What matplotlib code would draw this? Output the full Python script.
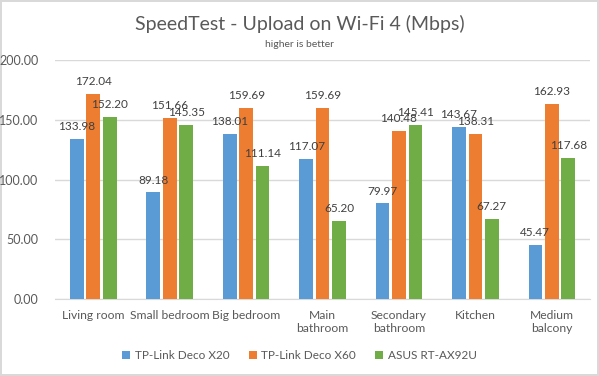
import numpy as np
import matplotlib.pyplot as plt

categories = ["Living room", "Small bedroom", "Big bedroom", "Main\nbathroom",
              "Secondary\nbathroom", "Kitchen", "Medium\nbalcony"]
series_names = ["TP-Link Deco X20", "TP-Link Deco X60", "ASUS RT-AX92U"]
deco_x20 = [133.98, 89.18, 138.01, 117.07, 79.97, 143.67, 45.47]
deco_x60 = [172.04, 151.66, 159.69, 159.69, 140.48, 138.31, 162.93]
asus_ax92u = [152.20, 145.35, 111.14, 65.20, 145.41, 67.27, 117.68]
colors = ["#5b9bd5", "#ed7d31", "#70ad47"]

plt.rcParams['font.family'] = ['Lato', 'DejaVu Sans']
txt = "#595959"

fig = plt.figure(figsize=(5.99, 3.76), dpi=100)
fig.patch.set_edgecolor("#d9d9d9")
fig.patch.set_linewidth(1.5)
ax = fig.add_axes([0.092, 0.205, 0.893, 0.635])

x = np.arange(len(categories))
w = 0.18
step = 0.215
for i, (vals, name) in enumerate(zip([deco_x20, deco_x60, asus_ax92u], series_names)):
    bars = ax.bar(x + (i - 1) * step, vals, w, color=colors[i], label=name, zorder=3)
    for b, v in zip(bars, vals):
        ax.annotate(f"{v:.2f}", (b.get_x() + b.get_width() / 2, v),
                    xytext=(0, 5), textcoords="offset points",
                    ha="center", va="bottom", fontsize=8.5, color="#404040", zorder=4)

ax.set_xlim(-0.5, len(categories) - 0.5)
ax.set_ylim(0, 200)
ax.set_yticks([0, 50, 100, 150, 200])
ax.set_yticklabels([f"{t:.2f}" for t in [0, 50, 100, 150, 200]])
ax.set_xticks(x)
ax.set_xticklabels(categories)
ax.tick_params(axis='both', length=0, labelsize=9, colors=txt)
ax.tick_params(axis='x', pad=8, labelsize=8.7)
ax.tick_params(axis='y', pad=12)
ax.grid(axis='y', color="#d9d9d9", linewidth=1, zorder=0)
for s in ["top", "right", "left"]:
    ax.spines[s].set_visible(False)
ax.spines["bottom"].set_color("#d9d9d9")

fig.text(0.5, 0.935, "SpeedTest - Upload on Wi-Fi 4 (Mbps)", ha="center", va="center",
         fontsize=14, color=txt)
fig.text(0.5, 0.882, "higher is better", ha="center", va="center", fontsize=7.5, color=txt)

fig.legend(loc="center", bbox_to_anchor=(0.5, 0.055), ncol=3, frameon=False,
           fontsize=8.5, handlelength=0.7, handleheight=0.7, columnspacing=1.6,
           handletextpad=0.4, labelcolor=txt)

fig.savefig("out.png", dpi=100)
